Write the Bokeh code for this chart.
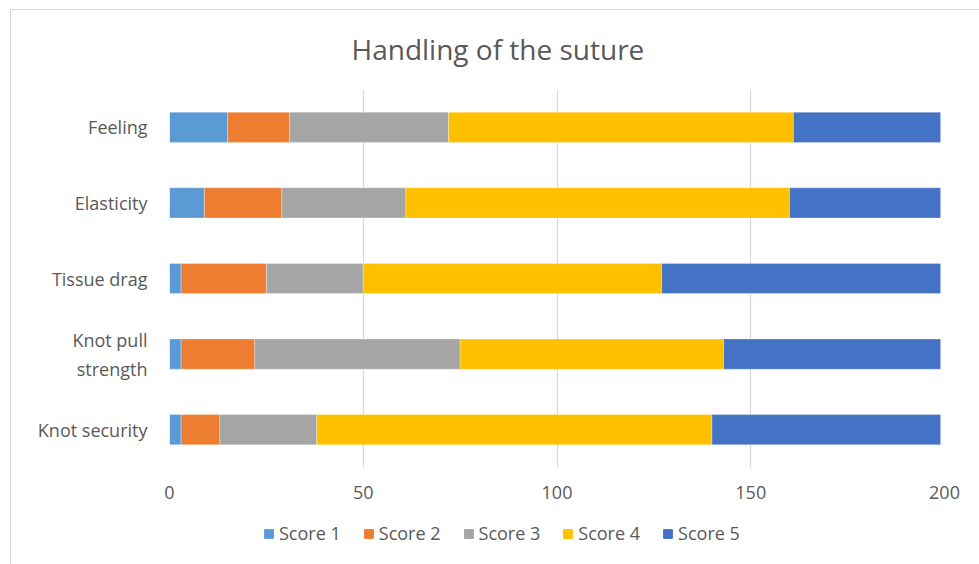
from bokeh.plotting import figure
from bokeh.layouts import column
from bokeh.models import FactorRange, Range1d, FixedTicker, Legend, LegendItem, Title
from bokeh.embed import file_html
from bokeh.resources import INLINE

# ---- data ----
categories = ["Knot security", "Knot pull\nstrength", "Tissue drag", "Elasticity", "Feeling"]
series_names = ["Score 1", "Score 2", "Score 3", "Score 4", "Score 5"]
score1 = [3, 3, 3, 9, 15]
score2 = [10, 19, 22, 20, 16]
score3 = [25, 53, 25, 32, 41]
score4 = [102, 68, 77, 99, 89]
score5 = [59, 56, 72, 39, 38]
x_ticks = [0, 50, 100, 150, 200]
colors = ["#5B9BD5", "#ED7D31", "#A5A5A5", "#FFC000", "#4472C4"]

FONT = "Open Sans"
TXT = "#595959"
W = 968

data = {"cat": categories}
for name, vals in zip(series_names, [score1, score2, score3, score4, score5]):
    data[name] = vals

p = figure(
    width=W, height=500,
    y_range=FactorRange(*categories),
    x_range=Range1d(0, 200),
    output_backend="svg", toolbar_location=None,
    min_border_left=158, min_border_right=35, min_border_top=79, min_border_bottom=43,
)

p.hbar_stack(series_names, y="cat", height=0.4, color=colors, source=data,
             line_color="white", line_width=0.6, line_alpha=0.5)

p.title = Title(text="Handling of the suture", align="left", offset=182,
                vertical_align="top",
                text_font=FONT, text_font_size="28px", text_font_style="normal",
                text_color=TXT, standoff=39)

p.outline_line_color = None
p.ygrid.grid_line_color = None
p.xgrid.grid_line_color = "#d9d9d9"
p.xgrid.grid_line_width = 1.3
p.xaxis.ticker = FixedTicker(ticks=x_ticks)

for ax in (p.xaxis[0], p.yaxis[0]):
    ax.axis_line_color = None
    ax.major_tick_line_color = None
    ax.minor_tick_line_color = None
    ax.major_label_text_font = FONT
    ax.major_label_text_font_size = "18px"
    ax.major_label_text_color = TXT
p.yaxis.major_label_standoff = 16
p.xaxis.major_label_standoff = 12

# ---- legend strip below the chart (its glyphs are not shown, only the legend) ----
p2 = figure(width=W, height=54, x_range=Range1d(0, 1), y_range=Range1d(0, 1),
            output_backend="svg", toolbar_location=None,
            min_border_left=0, min_border_right=0, min_border_top=0, min_border_bottom=0)
p2.axis.visible = False
p2.grid.visible = False
p2.outline_line_color = None
swatches = p2.hbar_stack(series_names, y="cat", height=0.4, color=colors, source=data)

items = [LegendItem(label=n, renderers=[r]) for n, r in zip(series_names, swatches)]
legend = Legend(items=items, orientation="horizontal", location=(94, 19),
                glyph_width=11, glyph_height=11, label_standoff=5, spacing=22,
                padding=0, margin=0, border_line_color=None, background_fill_alpha=0,
                label_text_font=FONT, label_text_font_size="18px", label_text_color=TXT)
p2.add_layout(legend, "center")

layout = column(p, p2, spacing=0)
layout.styles = {"margin-left": "10px", "margin-top": "9px",
                 "border-left": "1px solid #d9d9d9", "border-top": "1px solid #d9d9d9"}

open("out.html", "w").write(file_html(layout, INLINE))
